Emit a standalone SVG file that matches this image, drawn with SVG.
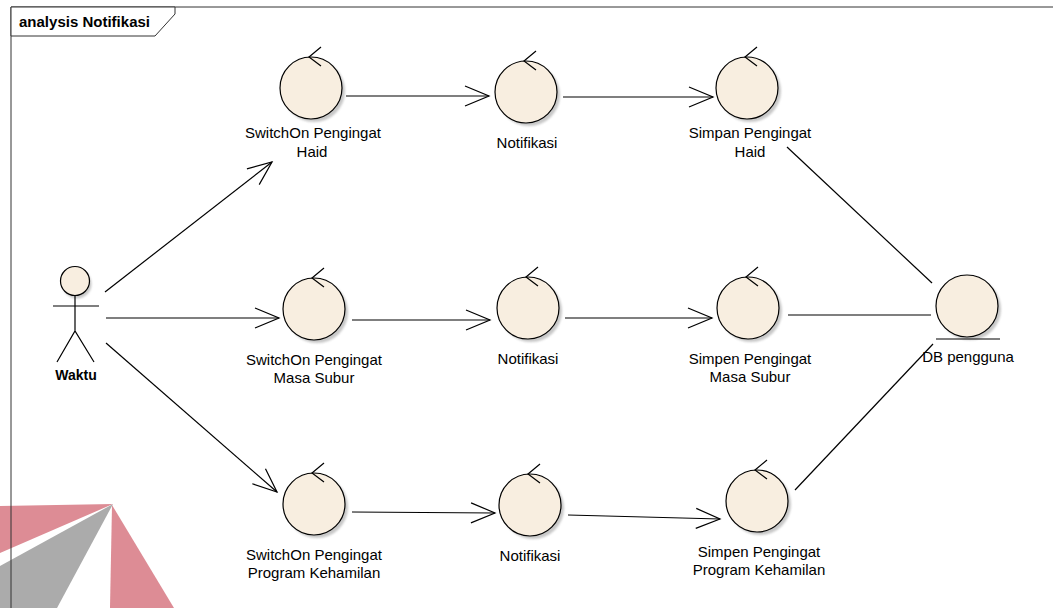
<svg xmlns="http://www.w3.org/2000/svg" width="1053" height="608" viewBox="0 0 1053 608">
  <style>
    .lbl { font-family: "Liberation Sans", Arial, sans-serif; font-size: 15px; fill: #000; text-anchor: middle; }
    .bold { font-weight: bold; }
    .body { fill: #F8EEE0; stroke: #000; stroke-width: 1.2; }
    .shadow { fill: #9a9a9a; opacity: 0.55; filter: url(#soft); }
    .ctl { fill: none; stroke: #000; stroke-width: 1.2; }
    .edge { fill: none; stroke: #000; stroke-width: 1.2; }
    .frame { fill: #fff; stroke: #333; stroke-width: 1; }
  </style>
  <defs>
    <filter id="soft" x="-20%" y="-20%" width="140%" height="140%">
      <feGaussianBlur stdDeviation="1.2"/>
    </filter>
    <marker id="open" markerUnits="userSpaceOnUse" markerWidth="30" markerHeight="30" refX="26" refY="12" orient="auto">
      <path d="M2,2 L26,12 L2,22" fill="none" stroke="#000" stroke-width="1.2"/>
    </marker>
    <!-- control element: circle with a small arrow on top -->
    <g id="control">
      <circle class="shadow" cx="3" cy="3" r="31"/>
      <circle class="body" cx="0" cy="0" r="31"/>
      <path class="ctl" d="M10,-41 L-2,-31 L10,-22"/>
    </g>
  </defs>

  <rect width="1053" height="608" fill="#fff"/>

  <!-- logo in the lower left corner -->
  <g id="logo">
    <polygon points="0,506 113,504 0,553" fill="#DD8C95"/>
    <polygon points="113,504 0,566 0,608 57,608" fill="#ABABAB"/>
    <polygon points="112,505 110,608 174,608" fill="#DD8C95"/>
  </g>

  <!-- diagram frame -->
  <g id="frame">
    <path d="M11,608 L11,7 L1053,7" fill="none" stroke="#333" stroke-width="1"/>
    <path class="frame" d="M11,7 L175,7 L175,14 L155,36 L11,36 Z"/>
    <text class="lbl bold" x="19" y="27" style="text-anchor:start" textLength="131">analysis Notifikasi</text>
  </g>

  <!-- connectors -->
  <g id="connectors">
    <line class="edge" x1="105" y1="292" x2="272" y2="162" marker-end="url(#open)"/>
    <line class="edge" x1="106" y1="318" x2="279" y2="318" marker-end="url(#open)"/>
    <line class="edge" x1="106" y1="343" x2="277" y2="492" marker-end="url(#open)"/>

    <line class="edge" x1="346" y1="96" x2="489" y2="96" marker-end="url(#open)"/>
    <line class="edge" x1="563" y1="97" x2="713" y2="97" marker-end="url(#open)"/>

    <line class="edge" x1="352" y1="320" x2="490" y2="320" marker-end="url(#open)"/>
    <line class="edge" x1="565" y1="318" x2="712" y2="318" marker-end="url(#open)"/>

    <line class="edge" x1="352" y1="512" x2="495" y2="513" marker-end="url(#open)"/>
    <line class="edge" x1="568" y1="515" x2="720" y2="519" marker-end="url(#open)"/>

    <line class="edge" x1="787" y1="147" x2="932" y2="283"/>
    <line class="edge" x1="788" y1="315" x2="931" y2="315"/>
    <line class="edge" x1="795" y1="490" x2="933" y2="344"/>
  </g>

  <!-- actor -->
  <g id="actor-waktu">
    <circle class="shadow" cx="77" cy="284" r="14.5"/>
    <circle class="body" cx="75" cy="281" r="14.5"/>
    <path class="edge" d="M75,295.5 L75,331 M53,306 L99,306 M57,362 L75,331 L94,362"/>
    <text class="lbl bold" x="76" y="380" style="font-size:14px">Waktu</text>
  </g>

  <!-- row 1 -->
  <g id="switchon-haid">
    <use href="#control" x="311" y="88"/>
    <text class="lbl" x="313" y="138">SwitchOn Pengingat</text>
    <text class="lbl" x="312" y="157">Haid</text>
  </g>
  <g id="notifikasi-1">
    <use href="#control" x="526" y="92"/>
    <text class="lbl" x="527" y="148">Notifikasi</text>
  </g>
  <g id="simpan-haid">
    <use href="#control" x="747" y="88"/>
    <text class="lbl" x="750" y="138">Simpan Pengingat</text>
    <text class="lbl" x="750" y="157">Haid</text>
  </g>

  <!-- row 2 -->
  <g id="switchon-masa-subur">
    <use href="#control" x="314" y="309"/>
    <text class="lbl" x="314" y="365">SwitchOn Pengingat</text>
    <text class="lbl" x="314" y="383">Masa Subur</text>
  </g>
  <g id="notifikasi-2">
    <use href="#control" x="528" y="308"/>
    <text class="lbl" x="528" y="364">Notifikasi</text>
  </g>
  <g id="simpen-masa-subur">
    <use href="#control" x="748" y="308"/>
    <text class="lbl" x="750" y="364">Simpen Pengingat</text>
    <text class="lbl" x="750" y="382">Masa Subur</text>
  </g>
  <g id="db-pengguna">
    <circle class="shadow" cx="970" cy="309" r="31"/>
    <circle class="body" cx="967" cy="306" r="31"/>
    <line class="edge" x1="936" y1="339" x2="1000" y2="339"/>
    <text class="lbl" x="968" y="362">DB pengguna</text>
  </g>

  <!-- row 3 -->
  <g id="switchon-program-kehamilan">
    <use href="#control" x="314" y="504"/>
    <text class="lbl" x="314" y="560">SwitchOn Pengingat</text>
    <text class="lbl" x="314" y="578">Program Kehamilan</text>
  </g>
  <g id="notifikasi-3">
    <use href="#control" x="530" y="505"/>
    <text class="lbl" x="530" y="561">Notifikasi</text>
  </g>
  <g id="simpen-program-kehamilan">
    <use href="#control" x="757" y="501"/>
    <text class="lbl" x="759" y="557">Simpen Pengingat</text>
    <text class="lbl" x="759" y="575">Program Kehamilan</text>
  </g>
</svg>
